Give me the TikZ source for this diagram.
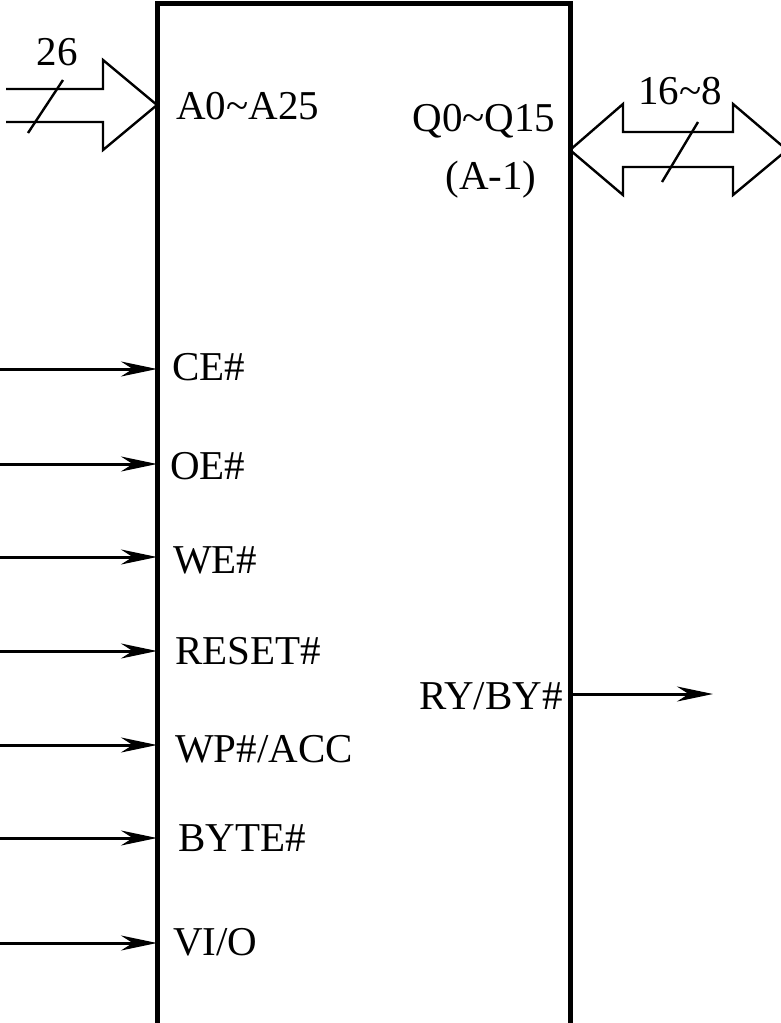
\documentclass[tikz,border=0pt]{standalone}
\usepackage{fontspec}
\setmainfont{Liberation Serif}
\usetikzlibrary{arrows.meta, positioning, calc}

\begin{document}
\begin{tikzpicture}[x=1pt, y=-1pt,
  pin/.style={font=\fontsize{41}{48}\selectfont, inner sep=0pt, text height=27pt, text depth=0pt},
  sig/.style={line width=3pt, -{Stealth[length=36pt, width=15pt]}},
  bus/.style={line width=2.4pt, line join=miter}
]
  \useasboundingbox (0,0) rectangle (780,1023);

  \node[draw, line width=5pt, outer sep=0pt, minimum width=413pt, minimum height=1060pt, inner sep=0pt, anchor=north west] (chip) at (157,3) {};

  \draw[bus] (6,89) -- (103,89) -- (103,60) -- (157,105) -- (103,150) -- (103,122) -- (6,122);
  \draw[bus] (28,133) -- (63,80);
  \node[pin] (addrw) at (57,52) {26};
  \node[pin, anchor=west] (addr) at (176,106) {A0\textasciitilde A25};

  \draw[bus] (570,150) -- (623,104) -- (623,132) -- (733,132) -- (733,104) -- (787,150)
    -- (733,195) -- (733,167) -- (623,167) -- (623,195) -- cycle;
  \draw[bus] (662,182) -- (698,122);
  \node[pin] (dataw) at (680,91) {16\textasciitilde 8};
  \node[pin] (data) at (484,118) {Q0\textasciitilde Q15};
  \node[pin] (dataalt) at (491,176) {(A-1)};

  \coordinate (ce-in) at (0,369);       \coordinate (ce) at (157,369);
  \coordinate (oe-in) at (0,464);       \coordinate (oe) at (157,464);
  \coordinate (we-in) at (0,557);       \coordinate (we) at (157,557);
  \coordinate (reset-in) at (0,651);    \coordinate (reset) at (157,651);
  \coordinate (wp-in) at (0,745);       \coordinate (wp) at (157,745);
  \coordinate (byte-in) at (0,838);     \coordinate (byte) at (157,838);
  \coordinate (vio-in) at (0,943);      \coordinate (vio) at (157,943);
  \coordinate (ry) at (570,694);        \coordinate (ry-out) at (713,694);

  \draw[sig] (ce-in) -- (ce);
  \draw[sig] (oe-in) -- (oe);
  \draw[sig] (we-in) -- (we);
  \draw[sig] (reset-in) -- (reset);
  \draw[sig] (wp-in) -- (wp);
  \draw[sig] (byte-in) -- (byte);
  \draw[sig] (vio-in) -- (vio);
  \draw[sig] (ry) -- (ry-out);

  \node[pin, anchor=west] (ce-lbl) at (172,367) {CE\#};
  \node[pin, anchor=west] (oe-lbl) at (170,466) {OE\#};
  \node[pin, anchor=west] (we-lbl) at (173,560) {WE\#};
  \node[pin, anchor=west] (reset-lbl) at (175,651) {RESET\#};
  \node[pin, anchor=west] (wp-lbl) at (175,749) {WP\#/ACC};
  \node[pin, anchor=west] (byte-lbl) at (178,838) {BYTE\#};
  \node[pin, anchor=west] (vio-lbl) at (173,942) {VI/O};
  \node[pin, anchor=east] (ry-lbl) at (563,696) {RY/BY\#};
\end{tikzpicture}
\end{document}
